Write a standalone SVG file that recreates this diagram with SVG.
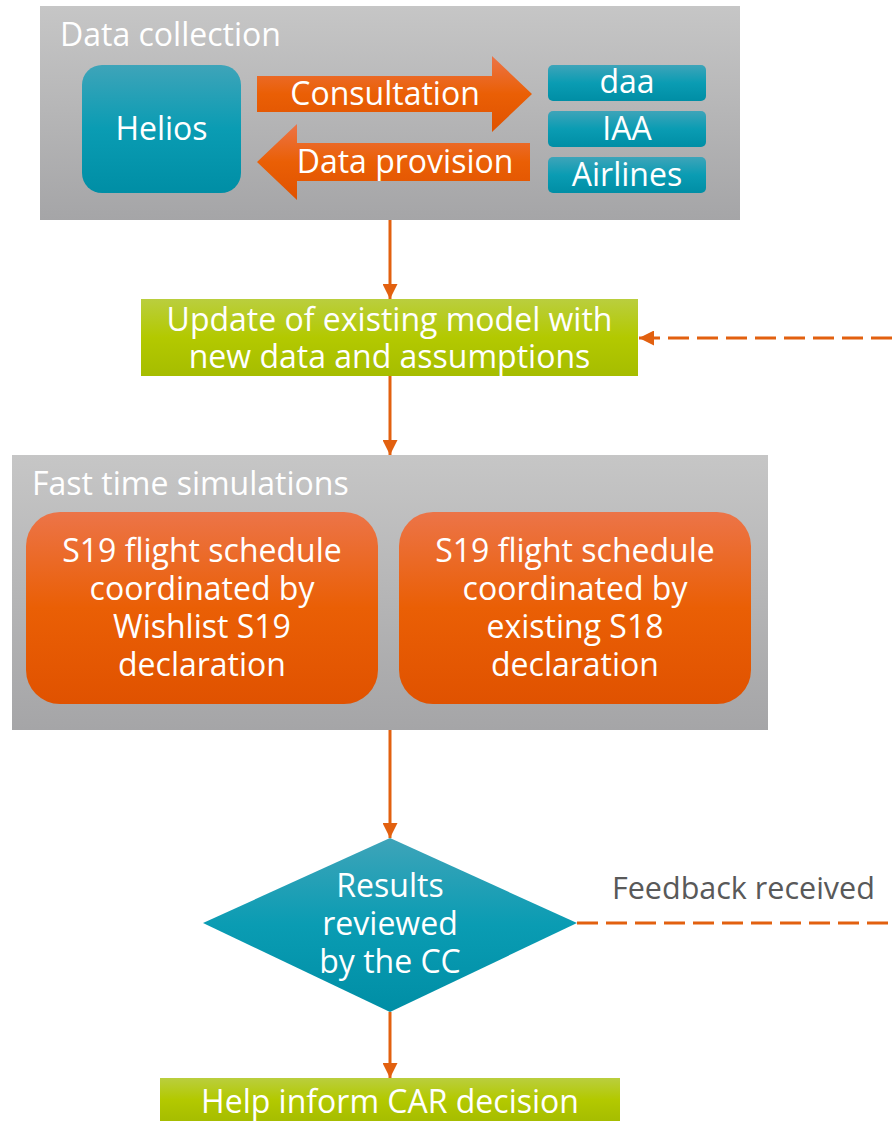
<svg xmlns="http://www.w3.org/2000/svg" width="892" height="1121" viewBox="0 0 892 1121">
<defs>
<linearGradient id="gGray" x1="0" y1="0" x2="0" y2="1"><stop offset="0" stop-color="#c6c6c6"/><stop offset="1" stop-color="#a5a5a7"/></linearGradient>
<linearGradient id="gTeal" x1="0" y1="0" x2="0" y2="1"><stop offset="0" stop-color="#3ea4b9"/><stop offset="0.5" stop-color="#0a9cb3"/><stop offset="1" stop-color="#008ea5"/></linearGradient>
<linearGradient id="gOrange" x1="0" y1="0" x2="0" y2="1"><stop offset="0" stop-color="#ec7448"/><stop offset="0.5" stop-color="#ea5f05"/><stop offset="1" stop-color="#e05200"/></linearGradient>
<linearGradient id="gGreen" x1="0" y1="0" x2="0" y2="1"><stop offset="0" stop-color="#bace3e"/><stop offset="0.5" stop-color="#b3c900"/><stop offset="1" stop-color="#a6bd00"/></linearGradient>
<marker id="ah" viewBox="0 0 10 10" refX="10" refY="5" markerWidth="5" markerHeight="5" orient="auto" markerUnits="strokeWidth"><path d="M0,0 L10,5 L0,10 z" fill="#e2600f"/></marker>
<style>
text{font-family:"Open Sans","DejaVu Sans",sans-serif;font-size:32px;fill:#fff}
.c{text-anchor:middle}
.lbl{fill:#595959;font-size:30.5px}
.con{stroke:#e2600f;stroke-width:3;fill:none}
.dash{stroke-dasharray:21 8}
</style>
</defs>

<g id="data-collection">
<rect x="40" y="6" width="700" height="214" fill="url(#gGray)"/>
<text x="60" y="46">Data collection</text>
</g>
<g id="helios">
<rect x="82" y="65" width="159" height="128" rx="20" fill="url(#gTeal)"/>
<text class="c" x="161.5" y="140">Helios</text>
</g>
<g id="consultation">
<path d="M257,76 H492 V56 L532,94 L492,132 V112 H257 z" fill="url(#gOrange)"/>
<text class="c" x="385" y="105">Consultation</text>
</g>
<g id="data-provision">
<path d="M530,143 H297 V124 L257,162 L297,200 V181 H530 z" fill="url(#gOrange)"/>
<text class="c" x="405" y="173">Data provision</text>
</g>
<g id="daa">
<rect x="548" y="65" width="158" height="36" rx="5" fill="url(#gTeal)"/>
<text class="c" x="627" y="93">daa</text>
</g>
<g id="iaa">
<rect x="548" y="111" width="158" height="36" rx="5" fill="url(#gTeal)"/>
<text class="c" x="627" y="140">IAA</text>
</g>
<g id="airlines">
<rect x="548" y="157" width="158" height="36" rx="5" fill="url(#gTeal)"/>
<text class="c" x="627" y="186">Airlines</text>
</g>

<g id="update-model">
<rect x="141" y="299" width="497" height="77" fill="url(#gGreen)"/>
<text class="c" x="389.5" y="331">Update of existing model with</text>
<text class="c" x="389.5" y="368">new data and assumptions</text>
</g>

<g id="fast-time">
<rect x="12" y="455" width="756" height="275" fill="url(#gGray)"/>
<text x="32" y="495">Fast time simulations</text>
</g>
<g id="sim-wishlist">
<rect x="26" y="512" width="352" height="192" rx="34" fill="url(#gOrange)"/>
<text class="c" x="202" y="562">S19 flight schedule</text>
<text class="c" x="202" y="600">coordinated by</text>
<text class="c" x="202" y="638">Wishlist S19</text>
<text class="c" x="202" y="676">declaration</text>
</g>
<g id="sim-existing">
<rect x="399" y="512" width="352" height="192" rx="34" fill="url(#gOrange)"/>
<text class="c" x="575" y="562">S19 flight schedule</text>
<text class="c" x="575" y="600">coordinated by</text>
<text class="c" x="575" y="638">existing S18</text>
<text class="c" x="575" y="676">declaration</text>
</g>

<g id="review">
<path d="M390,838 L577,923 L390,1012 L203,923 z" fill="url(#gTeal)"/>
<text class="c" x="390" y="897">Results</text>
<text class="c" x="390" y="935">reviewed</text>
<text class="c" x="390" y="973">by the CC</text>
</g>

<g id="car-decision">
<rect x="160" y="1078" width="460" height="43" fill="url(#gGreen)"/>
<text class="c" x="390" y="1113">Help inform CAR decision</text>
</g>

<g id="connectors">
<line class="con" x1="390" y1="220" x2="390" y2="299" marker-end="url(#ah)"/>
<line class="con" x1="390" y1="376" x2="390" y2="455" marker-end="url(#ah)"/>
<line class="con" x1="390" y1="730" x2="390" y2="838" marker-end="url(#ah)"/>
<line class="con" x1="390" y1="1012" x2="390" y2="1078" marker-end="url(#ah)"/>
<line class="con dash" x1="577" y1="923" x2="892" y2="923"/>
<line class="con dash" x1="892" y1="338" x2="639" y2="338" marker-end="url(#ah)"/>
<text class="lbl" x="612" y="899">Feedback received</text>
</g>
</svg>
